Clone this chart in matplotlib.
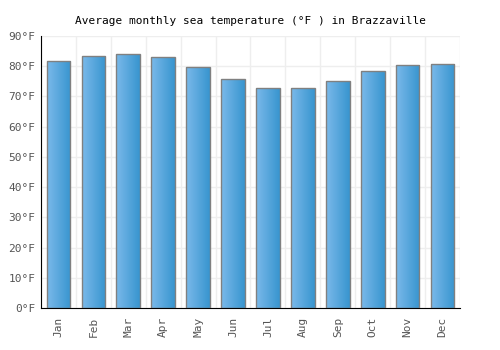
import numpy as np
import matplotlib
matplotlib.use('Agg')
import matplotlib.pyplot as plt
from matplotlib.colors import LinearSegmentedColormap

months = ['Jan', 'Feb', 'Mar', 'Apr', 'May', 'Jun', 'Jul', 'Aug', 'Sep', 'Oct', 'Nov', 'Dec']
temps_f = [81.7, 83.4, 84.0, 83.0, 79.7, 75.8, 72.8, 72.8, 75.2, 78.5, 80.4, 80.8]
yticks = [0, 10, 20, 30, 40, 50, 60, 70, 80, 90]
ytick_labels = [str(v) + '°F' for v in yticks]

plt.rcParams['font.family'] = ['DejaVu Sans Mono']

fig = plt.figure(figsize=(5, 3.5), dpi=100)
ax = fig.add_axes([0.082, 0.12, 0.838, 0.777])

x = np.arange(len(months))
bars = ax.bar(x, temps_f, width=0.68, facecolor='none', edgecolor='#808080', linewidth=1, zorder=3)

# left-to-right blue gradient inside each bar
grad = LinearSegmentedColormap.from_list('blu', ['#7ab9ea', '#3895cf'])
g = np.linspace(0, 1, 64).reshape(1, -1)
for b in bars:
    im = ax.imshow(g, cmap=grad, aspect='auto', zorder=2,
                   extent=[b.get_x(), b.get_x() + b.get_width(), 0, b.get_height()])
    im.set_clip_path(b)

ax.set_xlim(-0.5, len(months) - 0.5)
ax.set_ylim(0, 90)
ax.set_xticks(x)
ax.set_xticklabels(months, rotation=90, color='#555555', fontsize=8)
ax.set_yticks(yticks)
ax.set_yticklabels(ytick_labels, color='#555555', fontsize=8)
ax.set_xticks(np.arange(len(months) + 1) - 0.5, minor=True)
ax.grid(True, which='minor', axis='x', color='#eeeeee', linewidth=1, zorder=0)
ax.grid(True, which='major', axis='y', color='#eeeeee', linewidth=1, zorder=0)
ax.tick_params(which='both', length=0)
ax.tick_params(axis='x', pad=6)
ax.tick_params(axis='y', pad=4)

for s in ['top', 'right']:
    ax.spines[s].set_visible(False)
ax.spines['left'].set_color('black')
ax.spines['bottom'].set_color('black')

ax.set_title('Average monthly sea temperature (°F ) in Brazzaville', fontsize=8, color='black', pad=9)

fig.savefig('out.png', dpi=100)
